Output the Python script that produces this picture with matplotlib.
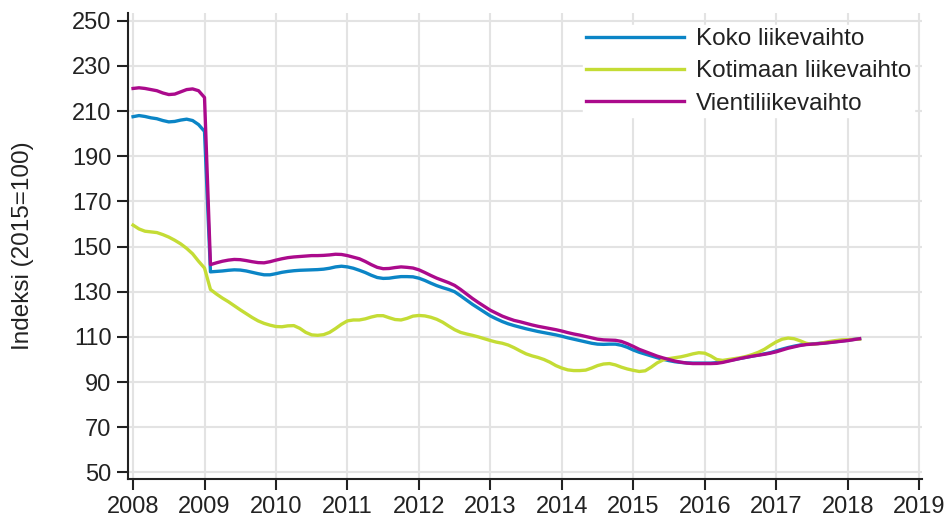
import numpy as np
import matplotlib
matplotlib.use("Agg")
import matplotlib.pyplot as plt

plt.rcParams['font.family'] = ['Liberation Sans', 'DejaVu Sans']

# Monthly index, 2008M01 .. 2018M03
start_year = 2008
series_names = ["Koko liikevaihto", "Kotimaan liikevaihto", "Vientiliikevaihto"]

koko = [
    207.5, 208.0, 207.6, 207.0, 206.6, 205.8, 205.2, 205.4, 206.0, 206.4, 205.8, 204.0,
    201.0, 138.8, 139.0, 139.2, 139.5, 139.7, 139.6, 139.2, 138.6, 138.0, 137.5, 137.5,
    138.0, 138.6, 139.0, 139.3, 139.5, 139.6, 139.7, 139.8, 140.0, 140.4, 141.0, 141.3,
    141.0, 140.4, 139.5, 138.5, 137.3, 136.3, 135.9, 136.0, 136.4, 136.7, 136.7, 136.6,
    136.0, 135.0, 133.8, 132.7, 131.8, 131.0, 130.0, 128.2, 126.3, 124.4, 122.7, 121.0,
    119.3, 118.0, 116.8, 115.8, 115.0, 114.3, 113.6, 113.0, 112.4, 111.9, 111.4, 110.9,
    110.3, 109.6, 109.0, 108.4, 107.8, 107.2, 106.8, 106.7, 106.8, 106.8, 106.3, 105.4,
    104.2, 103.2, 102.4, 101.6, 100.8, 100.1, 99.5, 99.0, 98.7, 98.5, 98.4, 98.4,
    98.4, 98.4, 98.6, 99.0, 99.5, 100.0, 100.5, 101.0, 101.5, 102.0, 102.5, 103.0,
    103.8, 104.6, 105.3, 105.9, 106.4, 106.7, 106.9, 107.1, 107.3, 107.6, 107.9, 108.2,
    108.5, 108.9, 109.2,
]

kotimaan = [
    159.5, 157.8, 156.8, 156.5, 156.2, 155.3, 154.2, 152.8, 151.2, 149.2, 146.8, 143.5,
    140.5, 131.0, 129.0, 127.2, 125.6, 123.8, 122.0, 120.3, 118.6, 117.1, 116.0, 115.2,
    114.6, 114.5, 114.9, 115.0, 113.8, 112.0, 110.9, 110.7, 111.0, 112.0, 113.7, 115.6,
    117.1, 117.5, 117.5, 118.0, 118.8, 119.4, 119.4, 118.5, 117.7, 117.5, 118.2, 119.2,
    119.5, 119.3, 118.7, 117.8, 116.5, 114.8, 113.2, 112.0, 111.3, 110.7, 110.0, 109.2,
    108.4, 107.7, 107.2, 106.4, 105.2, 103.8, 102.5, 101.6, 100.9, 100.0, 98.8, 97.3,
    96.2, 95.4, 95.1, 95.1, 95.3, 96.2, 97.3, 98.0, 98.2, 97.6, 96.6, 95.8,
    95.2, 94.7, 95.0, 96.6, 98.5, 99.8, 100.4, 100.8, 101.2, 101.8, 102.5, 103.0,
    102.8, 101.6, 100.0, 99.6, 100.0, 100.4, 100.8, 101.4, 102.2, 103.2, 104.5, 106.2,
    107.8, 109.0, 109.5, 109.2, 108.3, 107.2, 106.7, 107.0, 107.5, 108.0, 108.4, 108.7,
    108.8, 108.9, 109.0,
]

vienti = [
    220.0, 220.3, 220.0, 219.5, 219.0, 218.0, 217.3, 217.5, 218.5, 219.5, 219.8, 219.0,
    216.0, 142.0, 142.8, 143.5, 144.0, 144.3, 144.2, 143.8, 143.3, 142.9, 142.8, 143.3,
    144.0, 144.6, 145.1, 145.4, 145.6, 145.8, 146.0, 146.0, 146.1, 146.3, 146.6, 146.5,
    146.0, 145.3, 144.6, 143.4, 142.0, 140.8, 140.2, 140.3, 140.7, 141.0, 140.8, 140.5,
    139.7, 138.5, 137.2, 136.0, 135.0, 134.0, 132.8, 131.0, 129.0, 127.0, 125.2, 123.5,
    121.8, 120.5, 119.2, 118.2, 117.3, 116.7, 116.0, 115.3, 114.7, 114.2, 113.7, 113.2,
    112.6, 111.9, 111.3, 110.8, 110.2, 109.6, 109.0, 108.7, 108.6, 108.5, 108.0, 107.0,
    105.8, 104.5, 103.5, 102.5, 101.5, 100.7, 100.0, 99.3, 98.8, 98.4, 98.2, 98.2,
    98.2, 98.2, 98.3, 98.7, 99.3, 99.9, 100.5, 101.0, 101.5, 101.9, 102.3, 102.8,
    103.4, 104.2, 105.0, 105.6, 106.2, 106.6, 106.8, 107.0, 107.2, 107.5, 107.8, 108.1,
    108.4, 108.8, 109.2,
]

x_ticks = list(range(2008, 2020))
y_ticks = list(range(50, 251, 20))
y_label = "Indeksi (2015=100)"

colors = ["#0b85c6", "#c4dc35", "#ab0a8c"]

fig = plt.figure(figsize=(9.52, 5.27), dpi=100)
ax = fig.add_axes([0.1345, 0.0911, 0.834, 0.8842])

x = start_year + np.arange(len(koko)) / 12.0
for vals, name, c in zip([koko, kotimaan, vienti], series_names, colors):
    ax.plot(x, vals, color=c, lw=2.4, label=name, solid_joinstyle='round')

ax.set_xlim(2007.93, 2019.04)
ax.set_ylim(47.1, 253.4)
ax.set_xticks(x_ticks)
ax.set_xticklabels([str(t) for t in x_ticks])
ax.set_yticks(y_ticks)
ax.set_yticklabels([str(t) for t in y_ticks])

ax.grid(True, color="#e3e3e3", lw=1.5)
ax.set_axisbelow(True)
for s in ["top", "right"]:
    ax.spines[s].set_visible(False)
for s in ["left", "bottom"]:
    ax.spines[s].set_color("#222222")
    ax.spines[s].set_linewidth(1.5)
ax.tick_params(axis='both', length=8, width=1.5, color="#222222",
               labelsize=17, labelcolor="#222222", pad=4)

ax.set_ylabel(y_label, fontsize=17.5, color="#222222", labelpad=27)

leg = ax.legend(loc="upper right", bbox_to_anchor=(1.005, 1.0), frameon=True,
                fontsize=17.5, handlelength=4.0, handletextpad=0.5,
                labelspacing=0.42, borderpad=0.12, fancybox=False)
leg.get_frame().set_facecolor("white")
leg.get_frame().set_edgecolor("white")
leg.get_frame().set_alpha(1.0)
for t in leg.get_texts():
    t.set_color("#222222")

fig.savefig("out.png", dpi=100)
